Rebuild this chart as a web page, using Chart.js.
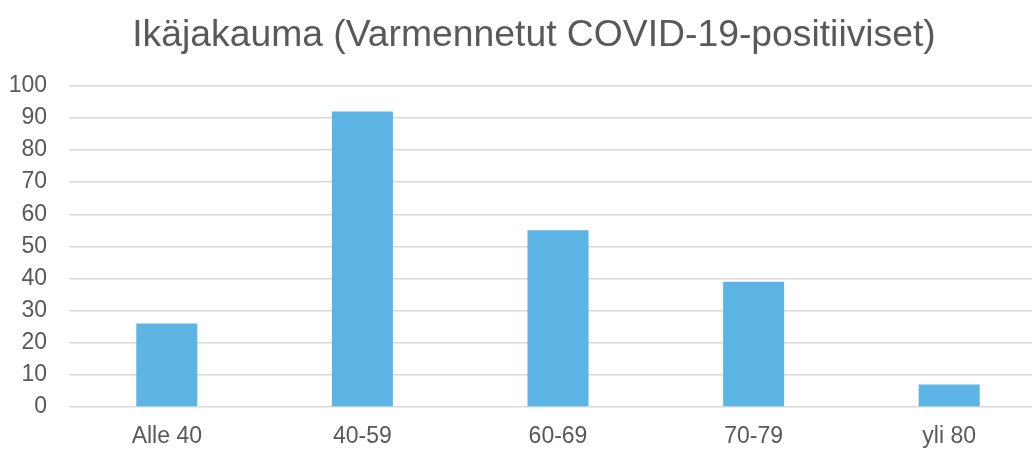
<!DOCTYPE html>
<html>
<head>
<meta charset="utf-8">
<script src="https://cdn.jsdelivr.net/npm/chart.js@4"></script>
<style>
html,body{margin:0;padding:0;background:#fff;overflow:hidden;}
#wrap{width:1068px;height:449px;position:relative;}
</style>
</head>
<body>
<div id="wrap"><canvas id="c"></canvas></div>
<script>
const categories = ["Alle 40", "40-59", "60-69", "70-79", "yli 80"];
const values = [26, 92, 55, 39, 7];
const yTicks = [0, 10, 20, 30, 40, 50, 60, 70, 80, 90, 100];
const titleText = "Ikäjakauma (Varmennetut COVID-19-positiiviset)";

Chart.defaults.font.family = "'Liberation Sans', Arial, sans-serif";
Chart.defaults.color = "#595959";

const centerTitle = {
  id: "centerTitle",
  afterLayout(chart) {
    const t = chart.titleBlock;
    if (t) { t.left = 21; t.right = chart.width - 21; }
  }
};

new Chart(document.getElementById("c"), {
  type: "bar",
  data: {
    labels: categories,
    datasets: [{
      data: values,
      backgroundColor: "#5DB5E5",
      borderWidth: 0,
      barPercentage: 0.312,
      categoryPercentage: 1.0
    }]
  },
  plugins: [centerTitle],
  options: {
    responsive: true,
    maintainAspectRatio: false,
    animation: false,
    layout: { padding: { left: 9, right: 21, top: 0, bottom: 0 } },
    plugins: {
      legend: { display: false },
      tooltip: { enabled: false },
      title: {
        display: true,
        text: titleText,
        color: "#595959",
        font: { size: 37.3, weight: "normal" },
        padding: { top: 13, bottom: 28 }
      }
    },
    scales: {
      x: {
        grid: { display: false, drawTicks: false },
        border: { display: false },
        ticks: { font: { size: 23 }, padding: 16, color: "#595959", maxRotation: 0 },
        afterFit: (axis) => { axis.height = 42; }
      },
      y: {
        min: yTicks[0],
        max: yTicks[yTicks.length - 1],
        afterBuildTicks: (axis) => { axis.ticks = yTicks.map(v => ({ value: v })); },
        grid: { color: "#d9d9d9", lineWidth: 1.5, drawTicks: false },
        border: { display: false },
        ticks: { font: { size: 23 }, padding: 22, color: "#595959" },
        afterFit: (axis) => { axis.width = 60; }
      }
    }
  }
});
</script>
</body>
</html>
